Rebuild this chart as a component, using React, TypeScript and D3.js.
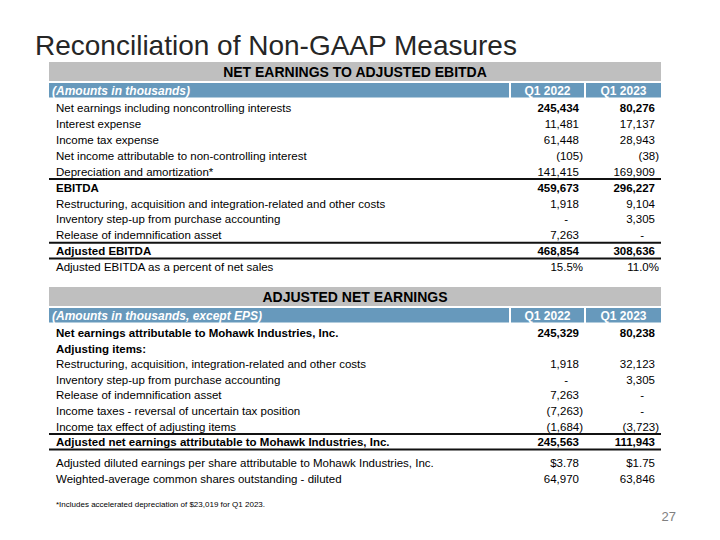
import React from "react";
import * as d3 from "d3";

const title = "Reconciliation of Non-GAAP Measures";
const columns = ["Q1 2022", "Q1 2023"];

const section1Title = "NET EARNINGS TO ADJUSTED EBITDA";
const section1Unit = "(Amounts in thousands)";
const labels1 = [
  "Net earnings including noncontrolling interests",
  "Interest expense",
  "Income tax expense",
  "Net income attributable to non-controlling interest",
  "Depreciation and amortization*",
  "EBITDA",
  "Restructuring, acquisition and integration-related and other costs",
  "Inventory step-up from purchase accounting",
  "Release of indemnification asset",
  "Adjusted EBITDA",
  "Adjusted EBITDA as a percent of net sales",
];
const q12022_1 = ["245,434", "11,481", "61,448", "(105)", "141,415", "459,673", "1,918", "-", "7,263", "468,854", "15.5%"];
const q12023_1 = ["80,276", "17,137", "28,943", "(38)", "169,909", "296,227", "9,104", "3,305", "-", "308,636", "11.0%"];

const section2Title = "ADJUSTED NET EARNINGS";
const section2Unit = "(Amounts in thousands, except EPS)";
const labels2 = [
  "Net earnings attributable to Mohawk Industries, Inc.",
  "Adjusting items:",
  "Restructuring, acquisition, integration-related and other costs",
  "Inventory step-up from purchase accounting",
  "Release of indemnification asset",
  "Income taxes - reversal of uncertain tax position",
  "Income tax effect of adjusting items",
  "Adjusted net earnings attributable to Mohawk Industries, Inc.",
  "Adjusted diluted earnings per share attributable to Mohawk Industries, Inc.",
  "Weighted-average common shares outstanding - diluted",
];
const q12022_2 = ["245,329", "", "1,918", "-", "7,263", "(7,263)", "(1,684)", "245,563", "$3.78", "64,970"];
const q12023_2 = ["80,238", "", "32,123", "3,305", "-", "-", "(3,723)", "111,943", "$1.75", "63,846"];

const footnote = "*Includes accelerated depreciation of  $23,019 for Q1 2023.";
const pageNumber = "27";

// styling (kept separate from data)
const boldLabel1 = [5, 9];
const boldValue1 = [0, 5, 9];
const lineBelow1 = [4, 8, 9];
const rowPos1 = [0, 1, 2, 3, 4, 5, 6, 7, 8, 9, 10];

const boldLabel2 = [0, 1, 7];
const boldValue2 = [0, 7];
const lineBelow2 = [6, 7];
const rowPos2 = [0, 1, 2, 3, 4, 5, 6, 7, 8.35, 9.35];

const FONT = "Liberation Sans, Arial, Helvetica, sans-serif";
const GRAY = "#BFBFBF";
const BLUE = "#6799BC";

const tableLeft = 49;
const tableRight = 661;
const labelX = 56;

const colCell = d3.scaleOrdinal<string, [number, number]>()
  .domain(["label", ...columns])
  .range([[tableLeft, 509], [511, 584], [586, tableRight]]);
const colRight = d3.scaleOrdinal<string, number>().domain(columns).range([579, 655]);

function valueX(col: string, v: string) {
  const r = colRight(col);
  if (v === "-") return r - 11;
  if (v.endsWith(")") || v.endsWith("%")) return r + 4;
  return r;
}

type SectionProps = {
  titleText: string;
  unit: string;
  labels: string[];
  v1: string[];
  v2: string[];
  headerTop: number;
  y: d3.ScaleLinear<number, number>;
  pos: number[];
  boldLabel: number[];
  boldValue: number[];
  lineBelow: number[];
};

function Section(p: SectionProps) {
  const grayH = 19;
  const blueTop = p.headerTop + grayH + 2;
  const blueH = 14.5;
  const vals = [p.v1, p.v2];
  return (
    <g>
      <rect x={tableLeft} y={p.headerTop} width={tableRight - tableLeft} height={grayH} fill={GRAY} />
      <text
        x={(tableLeft + tableRight) / 2}
        y={p.headerTop + grayH / 2}
        dy="0.36em"
        textAnchor="middle"
        fontFamily={FONT}
        fontWeight="bold"
        fontSize={14}
        fill="#000"
      >
        {p.titleText}
      </text>
      {["label", ...columns].map((c) => {
        const [a, b] = colCell(c);
        return <rect key={c} x={a} y={blueTop} width={b - a} height={blueH} fill={BLUE} />;
      })}
      <text
        x={tableLeft + 3}
        y={blueTop + blueH / 2}
        dy="0.36em"
        fontFamily={FONT}
        fontWeight="bold"
        fontStyle="italic"
        fontSize={12}
        fill="#fff"
      >
        {p.unit}
      </text>
      {columns.map((c) => {
        const [a, b] = colCell(c);
        return (
          <text
            key={c}
            x={(a + b) / 2}
            y={blueTop + blueH / 2}
            dy="0.36em"
            textAnchor="middle"
            fontFamily={FONT}
            fontWeight="bold"
            fontSize={12}
            fill="#fff"
          >
            {c}
          </text>
        );
      })}
      {p.labels.map((lab, i) => {
        const cy = p.y(p.pos[i]);
        return (
          <g key={i}>
            <text
              x={labelX}
              y={cy}
              dy="0.36em"
              fontFamily={FONT}
              fontSize={11.5}
              fontWeight={p.boldLabel.includes(i) ? "bold" : "normal"}
              fill="#000"
            >
              {lab}
            </text>
            {columns.map((c, ci) => {
              const v = vals[ci][i];
              if (!v) return null;
              return (
                <text
                  key={c}
                  x={valueX(c, v)}
                  y={cy}
                  dy="0.36em"
                  textAnchor="end"
                  fontFamily={FONT}
                  fontSize={11.5}
                  fontWeight={p.boldValue.includes(i) ? "bold" : "normal"}
                  fill="#000"
                >
                  {v}
                </text>
              );
            })}
            {p.lineBelow.includes(i) && (
              <line x1={tableLeft} x2={tableRight} y1={cy + 7.5} y2={cy + 7.5} stroke="#111" strokeWidth={2} />
            )}
          </g>
        );
      })}
    </g>
  );
}

export default function App() {
  const y1 = d3.scaleLinear().domain([0, 10]).range([108, 267]);
  const y2 = d3.scaleLinear().domain([0, 7]).range([333, 442]);
  return (
    <svg width={720} height={540} style={{ position: "absolute", left: 0, top: 0, background: "#fff" }}>
      <rect x={0} y={0} width={720} height={540} fill="#fff" />
      <text x={35} y={55} fontFamily={FONT} fontSize={28} fill="#262626">
        {title}
      </text>
      <Section
        titleText={section1Title}
        unit={section1Unit}
        labels={labels1}
        v1={q12022_1}
        v2={q12023_1}
        headerTop={62}
        y={y1}
        pos={rowPos1}
        boldLabel={boldLabel1}
        boldValue={boldValue1}
        lineBelow={lineBelow1}
      />
      <Section
        titleText={section2Title}
        unit={section2Unit}
        labels={labels2}
        v1={q12022_2}
        v2={q12023_2}
        headerTop={287}
        y={y2}
        pos={rowPos2}
        boldLabel={boldLabel2}
        boldValue={boldValue2}
        lineBelow={lineBelow2}
      />
      <text x={56} y={504} dy="0.36em" fontFamily={FONT} fontSize={8} fill="#000">
        {footnote}
      </text>
      <text x={676} y={516} dy="0.36em" textAnchor="end" fontFamily={FONT} fontSize={13} fill="#808080">
        {pageNumber}
      </text>
    </svg>
  );
}
